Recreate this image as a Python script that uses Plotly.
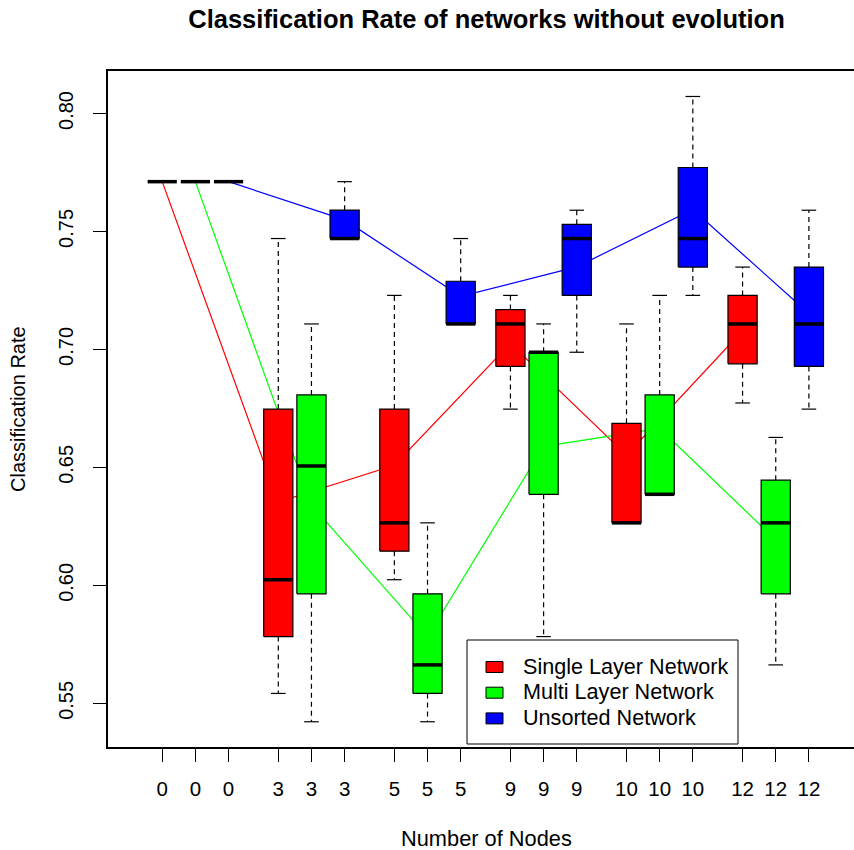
import plotly.graph_objects as go

# Number of hidden nodes for each group of boxes
node_counts = [0, 3, 5, 9, 10, 12]
series_names = ["Single Layer Network", "Multi Layer Network", "Unsorted Network"]
series_colors = ["#FF0000", "#00FF00", "#0000FF"]

# Five-number summaries per node count: lower whisker, Q1, median, Q3, upper whisker
single_layer = [
    [0.7711, 0.7711, 0.7711, 0.7711, 0.7711],
    [0.5542, 0.5783, 0.6024, 0.6747, 0.7470],
    [0.6024, 0.6145, 0.6265, 0.6747, 0.7229],
    [0.6747, 0.6928, 0.7108, 0.7169, 0.7229],
    [0.6265, 0.6265, 0.6265, 0.6687, 0.7108],
    [0.6773, 0.6939, 0.7108, 0.7229, 0.7349],
]
multi_layer = [
    [0.7711, 0.7711, 0.7711, 0.7711, 0.7711],
    [0.5422, 0.5964, 0.6506, 0.6807, 0.7108],
    [0.5422, 0.5542, 0.5663, 0.5964, 0.6265],
    [0.5783, 0.6386, 0.6988, 0.6988, 0.7108],
    [0.6386, 0.6386, 0.6386, 0.6807, 0.7229],
    [0.5663, 0.5964, 0.6265, 0.6446, 0.6627],
]
unsorted = [
    [0.7711, 0.7711, 0.7711, 0.7711, 0.7711],
    [0.7470, 0.7470, 0.7470, 0.7590, 0.7711],
    [0.7108, 0.7108, 0.7108, 0.7289, 0.7470],
    [0.6988, 0.7229, 0.7470, 0.7530, 0.7590],
    [0.7229, 0.7349, 0.7470, 0.7771, 0.8072],
    [0.6747, 0.6928, 0.7108, 0.7349, 0.7590],
]

# Mean classification rate per node count (the connecting lines)
single_layer_mean = [0.7711, 0.6353, 0.6509, 0.7025, 0.6552, 0.7079]
multi_layer_mean = [0.7711, 0.6340, 0.5783, 0.6589, 0.6665, 0.6193]
unsorted_mean = [0.7711, 0.7549, 0.7225, 0.7350, 0.7593, 0.7152]

y_ticks = [0.55, 0.60, 0.65, 0.70, 0.75, 0.80]

summaries = [single_layer, multi_layer, unsorted]
means = [single_layer_mean, multi_layer_mean, unsorted_mean]

FONT = "Liberation Sans, Arial, Helvetica, sans-serif"
BOX_W = 0.88
CAP_W = BOX_W * 0.5
GROUP_STEP = 3.5


def position(group, member):
    return 1 + GROUP_STEP * group + member


fig = go.Figure()

# Mean lines sit underneath the boxes
for s, (name, color) in enumerate(zip(series_names, series_colors)):
    fig.add_trace(go.Scatter(
        x=[position(g, s) for g in range(len(node_counts))],
        y=means[s],
        mode="lines",
        line=dict(color=color, width=1.2),
        showlegend=False,
        hoverinfo="skip",
    ))

whisker_x, whisker_y = [], []
cap_x, cap_y = [], []
med_x, med_y = [], []
tick_pos, tick_text = [], []

for g, n in enumerate(node_counts):
    for s, color in enumerate(series_colors):
        lo, q1, med, q3, hi = summaries[s][g]
        p = position(g, s)
        tick_pos.append(p)
        tick_text.append(str(n))
        left, right = p - BOX_W / 2, p + BOX_W / 2

        # whiskers (dashed) and staples
        if hi > q3:
            whisker_x += [p, p, None]
            whisker_y += [q3, hi, None]
        if lo < q1:
            whisker_x += [p, p, None]
            whisker_y += [q1, lo, None]
        if hi > lo:
            for v in (lo, hi):
                cap_x += [p - CAP_W / 2, p + CAP_W / 2, None]
                cap_y += [v, v, None]

        # box body
        if q3 > q1:
            fig.add_trace(go.Scatter(
                x=[left, right, right, left, left],
                y=[q1, q1, q3, q3, q1],
                mode="lines",
                fill="toself",
                fillcolor=color,
                line=dict(color="black", width=1.2),
                showlegend=False,
                hoverinfo="skip",
            ))

        med_x += [left, right, None]
        med_y += [med, med, None]

fig.add_trace(go.Scatter(
    x=whisker_x, y=whisker_y, mode="lines",
    line=dict(color="black", width=1.2, dash="5px,4px"),
    showlegend=False, hoverinfo="skip",
))
fig.add_trace(go.Scatter(
    x=cap_x, y=cap_y, mode="lines",
    line=dict(color="black", width=1.2),
    showlegend=False, hoverinfo="skip",
))
fig.add_trace(go.Scatter(
    x=med_x, y=med_y, mode="lines",
    line=dict(color="black", width=3.5),
    showlegend=False, hoverinfo="skip",
))

# Figure geometry (pixels)
W, H = 854, 850
PL, PT, PB = 108, 71, 747
PR = W


def px_x(v):
    return (v - PL) / (PR - PL)


def px_y(v):
    return (PB - v) / (PB - PT)


# Legend frame with coloured keys
shapes = [dict(
    type="rect", xref="paper", yref="paper",
    x0=px_x(467), x1=px_x(738), y0=px_y(640), y1=px_y(744),
    line=dict(color="black", width=1), fillcolor="white", layer="above",
)]
annotations = []
for i, (name, color) in enumerate(zip(series_names, series_colors)):
    cy = 667 + i * 25.7
    shapes.append(dict(
        type="rect", xref="paper", yref="paper",
        x0=px_x(486), x1=px_x(503), y0=px_y(cy + 5.5), y1=px_y(cy - 5.5),
        line=dict(color="black", width=1), fillcolor=color, layer="above",
    ))
    annotations.append(dict(
        text=name, xref="paper", yref="paper",
        x=px_x(521), y=px_y(cy - 1), xanchor="left", yanchor="middle",
        showarrow=False, font=dict(family=FONT, size=21.6, color="black"),
    ))

annotations.append(dict(
    text="Number of Nodes", xref="paper", yref="paper",
    x=px_x(486), y=px_y(838), xanchor="center", yanchor="middle",
    showarrow=False, font=dict(family=FONT, size=21.8, color="black"),
))
annotations.append(dict(
    text="Classification Rate", xref="paper", yref="paper",
    x=px_x(18), y=0.5, xanchor="center", yanchor="middle", textangle=-90,
    showarrow=False, font=dict(family=FONT, size=20, color="black"),
))

fig.update_layout(
    width=W, height=H,
    margin=dict(l=PL, r=W - PR, t=PT, b=H - PB, pad=0),
    paper_bgcolor="white", plot_bgcolor="white",
    title=dict(
        text="<b>Classification Rate of networks without evolution</b>",
        x=px_x(486.5), xref="paper", xanchor="center",
        y=1 - 19 / H, yref="container", yanchor="middle",
        font=dict(family=FONT, size=25.5, color="black"),
    ),
    showlegend=False,
    shapes=shapes,
    annotations=annotations,
    font=dict(family=FONT, color="black"),
)

fig.update_xaxes(
    range=[-0.635, 21.86],
    tickmode="array", tickvals=tick_pos, ticktext=tick_text,
    ticks="outside", ticklen=13, tickwidth=1, tickcolor="black",
    showline=True, linecolor="black", linewidth=1.5, mirror=True,
    showgrid=False, zeroline=False,
    tickfont=dict(family=FONT, size=20.5, color="black"),
    ticklabelstandoff=10,
)
fig.update_yaxes(
    range=[0.5315, 0.818],
    tickmode="array", tickvals=y_ticks, ticktext=[f"{v:.2f}" for v in y_ticks],
    tickangle=-90,
    ticks="outside", ticklen=13, tickwidth=1, tickcolor="black",
    showline=True, linecolor="black", linewidth=1.5,
    showgrid=False, zeroline=False,
    tickfont=dict(family=FONT, size=20, color="black"),
    ticklabelstandoff=12,
)

fig.write_html("out.html")
